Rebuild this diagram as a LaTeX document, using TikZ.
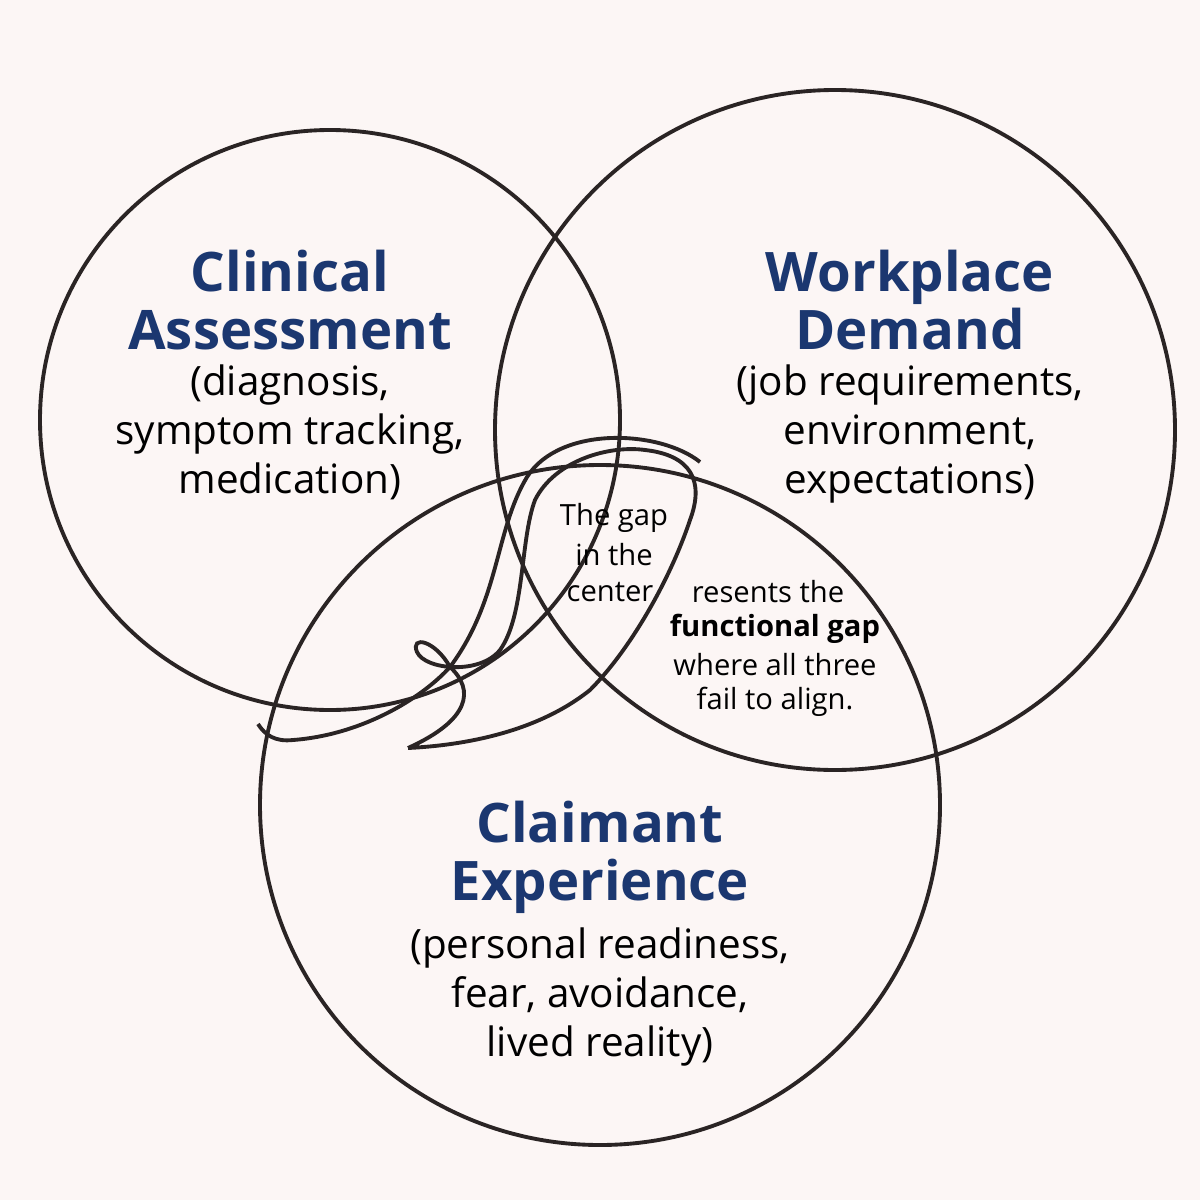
\documentclass[tikz,border=0pt]{standalone}
\usepackage{fontspec}
\setmainfont{Open Sans}
\usetikzlibrary{positioning}
\definecolor{paper}{HTML}{FCF6F5}
\definecolor{navy}{HTML}{1B3770}
\definecolor{ink}{HTML}{2A2424}
\tikzset{
    x=0.01cm, y=-0.01cm,
    stroke/.style={draw=ink, line width=1.1pt}, % hand-drawn outline
    title/.style={font=\fontsize{15.5}{16.5}\selectfont\bfseries, text=navy, align=center},
    body/.style={font=\fontsize{11.5}{14}\selectfont, text=black, align=center},
    note/.style={font=\fontsize{8.3}{10.4}\selectfont, text=black, inner sep=0pt},
    }
\begin{document}
\begin{tikzpicture}
    \fill[paper] (0,0) rectangle (1200,1200);
    \useasboundingbox (0,0) rectangle (1200,1200);

    % the three rings
    \coordinate (CL) at (330,420);
    \coordinate (WD) at (835,430);
    \coordinate (CE) at (600,805);
    \draw[stroke] (CL) circle[radius=290];
    \draw[stroke] (WD) circle[radius=340];
    \draw[stroke] (CE) circle[radius=340];

    % the tangled strand in the middle
    \coordinate (tail) at (408,748);
    \coordinate (knot) at (450,667);
    \coordinate (turn) at (700,462);
    \draw[stroke] (tail) .. controls (470,720) and (475,690) .. (knot)
        .. controls (435,640) and (410,635) .. (417,652)
        .. controls (425,670) and (480,675) .. (500,650)
        .. controls (525,615) and (520,540) .. (535,500)
        .. controls (555,460) and (610,445) .. (645,450)
        .. controls (690,455) and (705,480) .. (690,520)
        .. controls (670,580) and (630,650) .. (590,690)
        .. controls (540,730) and (470,745) .. (tail);
    \draw[stroke] (turn) .. controls (660,430) and (560,425) .. (527,477)
        .. controls (495,530) and (500,600) .. (knot)
        .. controls (420,700) and (360,735) .. (293,740)
        .. controls (275,742) and (265,735) .. (258,724);

    % labels
    \node[title] (CLt) at (290,300) {Clinical\\Assessment};
    \node[body, below=-3pt of CLt] (CLb) {(diagnosis,\\symptom tracking,\\medication)};
    \node[title] (WDt) at (910,300) {Workplace\\Demand};
    \node[body, below=-3pt of WDt] (WDb) {(job requirements,\\environment,\\expectations)};
    \node[title] (CEt) at (600,857) {Claimant\\Experience};
    \node[body, below=-3pt of CEt] (CEb) {(personal readiness,\\fear, avoidance,\\lived reality)};

    \node[note] (g1) at (614,518) {The gap};
    \node[note] (g2) at (614,555) {in the};
    \node[note] (g3) at (610,592) {center};
    \node[note] (g4) at (768,592) {resents the};
    \node[note] (g5) at (775,629) {\bfseries functional gap};
    \node[note] (g6) at (775,665) {where all three};
    \node[note] (g7) at (775,702) {fail to align.};
\end{tikzpicture}
\end{document}
